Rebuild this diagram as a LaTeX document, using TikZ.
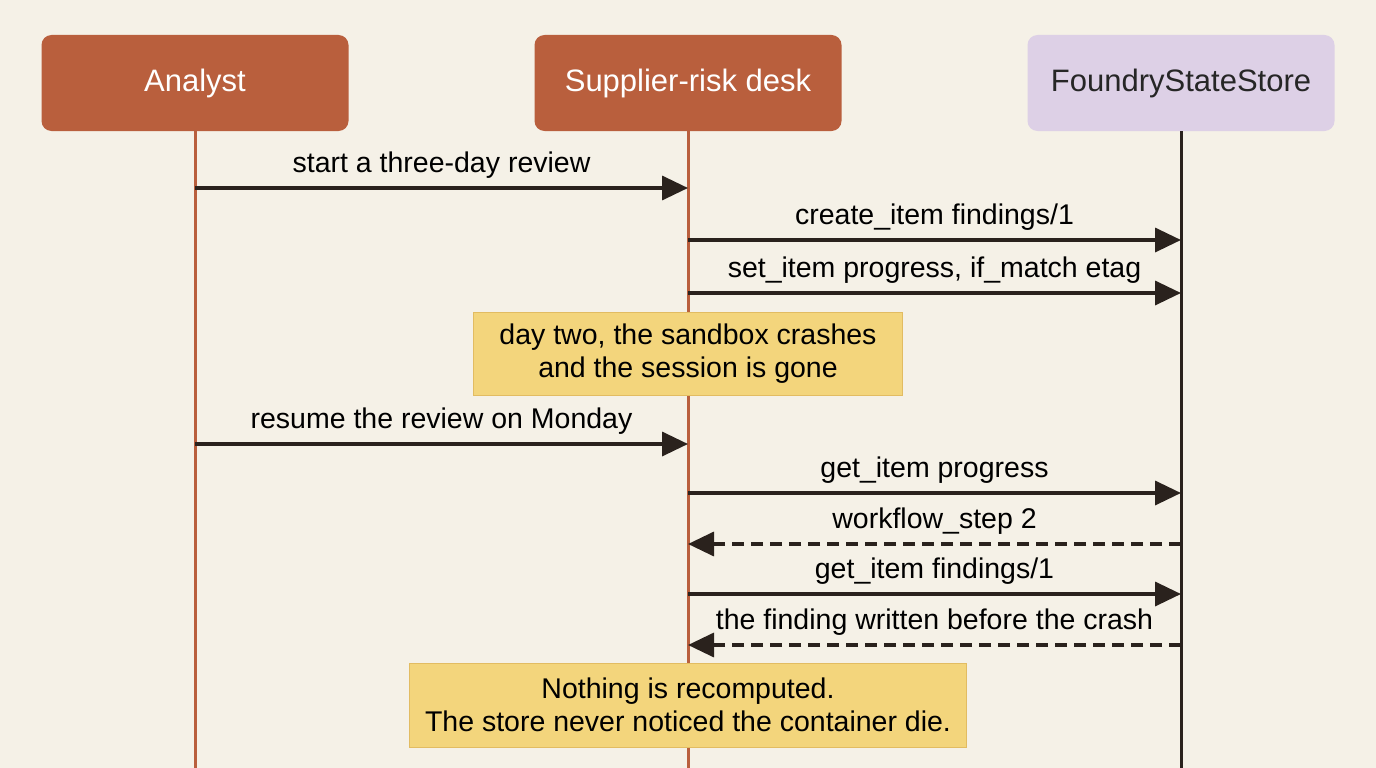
\documentclass[tikz,border=0pt]{standalone}
\usepackage{fontspec}
\setmainfont{Liberation Sans}
\usetikzlibrary{positioning,arrows.meta}
\definecolor{bgcol}{HTML}{F5F1E7}
\definecolor{actor}{HTML}{B95F3D}
\definecolor{store}{HTML}{DDD0E6}
\definecolor{notefill}{HTML}{F3D57C}
\definecolor{noteline}{HTML}{E2BC62}
\definecolor{ink}{HTML}{2A221D}
\tikzset{
  head/.style={rounded corners=10pt, minimum width=307pt, minimum height=96pt,
    font=\fontsize{31}{36}\selectfont},
  life/.style={line width=3pt},
  msg/.style={ink, line width=3.5pt, -{Triangle[length=26pt,width=24pt]}},
  reply/.style={msg, dash pattern=on 12pt off 7pt},
  lbl/.style={font=\fontsize{28.5}{32}\selectfont, text=black, inner sep=0pt},
  note/.style={fill=notefill, draw=noteline, line width=1pt, align=center,
    font=\fontsize{28.5}{33}\selectfont, inner sep=0pt}
}
\begin{document}
\begin{tikzpicture}[x=1pt,y=-1pt]
  \fill[bgcol] (0,0) rectangle (1376,768);
  \useasboundingbox (0,0) rectangle (1376,768);
  %%%%% THE PARTICIPANTS
  \node[head, fill=actor, text=white] (analyst) at (195,83) {Analyst};
  \node[head, fill=actor, text=white] (desk) at (688,83) {Supplier-risk desk};
  \node[head, fill=store, text=black!85] (fss) at (1181,83) {FoundryStateStore};
  \draw[life, actor] (analyst.south) -- (195,768);
  \draw[life, actor] (desk.south) -- (688,768);
  \draw[life, ink] (fss.south) -- (1181,768);
  %%%%% THE MESSAGES
  \foreach \n/\y in {1/188,2/240,3/293,4/444,5/493,6/544,7/594,8/645}{
    \coordinate (a\n) at (195,\y);
    \coordinate (d\n) at (688,\y);
    \coordinate (f\n) at (1181,\y);
  }
  \draw[msg] (a1) -- node[lbl, above=8pt] {start a three-day review} (d1);
  \draw[msg] (d2) -- node[lbl, above=8pt] {create\_item findings/1} (f2);
  \draw[msg] (d3) -- node[lbl, above=8pt] {set\_item progress, if\_match etag} (f3);
  \draw[msg] (a4) -- node[lbl, above=8pt] {resume the review on Monday} (d4);
  \draw[msg] (d5) -- node[lbl, above=8pt] {get\_item progress} (f5);
  \draw[reply] (f6) -- node[lbl, above=8pt] {workflow\_step 2} (d6);
  \draw[msg] (d7) -- node[lbl, above=8pt] {get\_item findings/1} (f7);
  \draw[reply] (f8) -- node[lbl, above=8pt] {the finding written before the crash} (d8);
  %%%% NOTES
  \node[note, minimum width=429pt, minimum height=83pt] (crash) at (688,354)
    {day two, the sandbox crashes\\and the session is gone};
  \node[note, minimum width=557pt, minimum height=84pt] (nothing) at (688,705)
    {Nothing is recomputed.\\The store never noticed the container die.};
\end{tikzpicture}
\end{document}
